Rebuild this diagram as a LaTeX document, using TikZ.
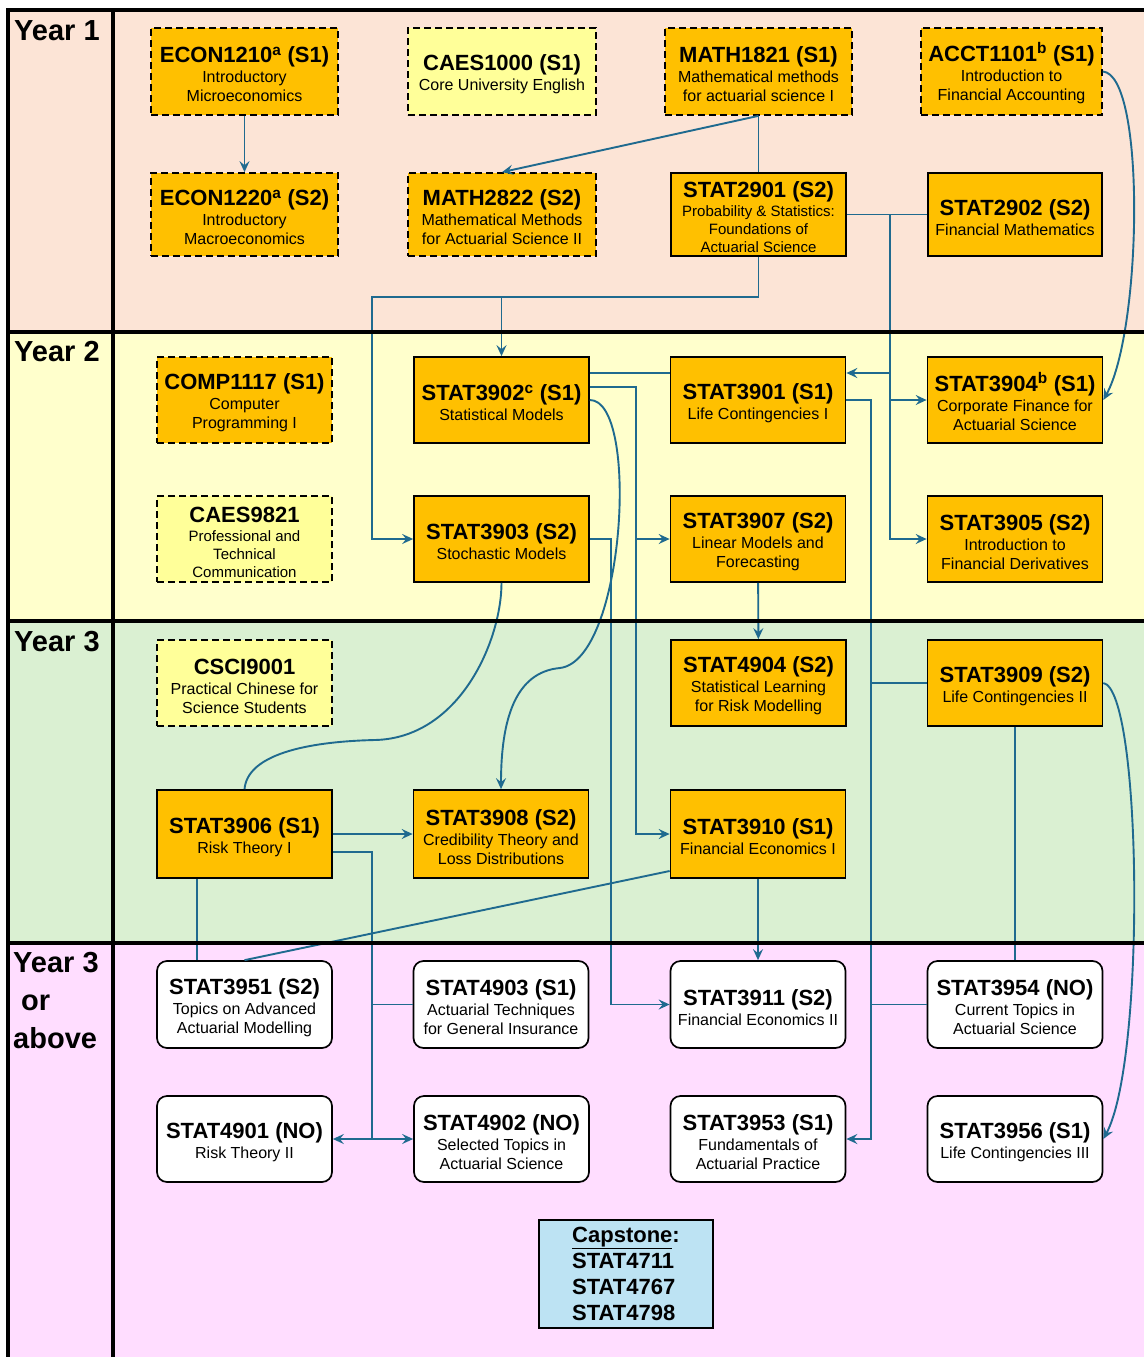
\documentclass[tikz,border=0pt]{standalone}
\usepackage{fontspec}
\setmainfont{Liberation Sans}
\usetikzlibrary{arrows.meta}
\definecolor{yrone}{RGB}{252,228,214}
\definecolor{yrtwo}{RGB}{255,255,204}
\definecolor{yrthree}{RGB}{218,240,210}
\definecolor{yrfour}{RGB}{255,221,255}
\definecolor{orangebox}{RGB}{255,192,0}
\definecolor{genbox}{RGB}{255,255,153}
\definecolor{capbox}{RGB}{189,227,243}
\definecolor{linkc}{RGB}{31,106,143}
\newcommand{\ctitle}[1]{{\fontsize{22}{24}\selectfont\bfseries\rule{0pt}{22pt}#1}}

\begin{document}
\begin{tikzpicture}[x=1pt,y=-1pt,
    box/.style={draw,line width=1.7pt,minimum width=175pt,minimum height=86pt,inner sep=1pt,align=center,font=\fontsize{16}{19}\selectfont},
    core/.style={box,fill=orangebox},
    elective/.style={box,fill=orangebox,dash pattern=on 7pt off 4pt},
    general/.style={box,fill=genbox,dash pattern=on 7pt off 4pt},
    adv/.style={box,fill=white,rounded corners=10pt},
    yr/.style={anchor=north west,inner sep=0pt,align=left,font=\fontsize{29}{38}\selectfont\bfseries},
    link/.style={draw=linkc,line width=1.9pt},
    arr/.style={link,-{Stealth[length=11pt,width=10pt,inset=4pt]}}]
    \useasboundingbox (0,0) rectangle (1144,1357);
    \fill[yrone] (7.5,10) rectangle (1144,331.5);
    \fill[yrtwo] (7.5,331.5) rectangle (1144,620.5);
    \fill[yrthree] (7.5,620.5) rectangle (1144,942.5);
    \fill[yrfour] (7.5,942.5) rectangle (1144,1357);

    \node[yr] (yr1) at (14,20) {Year 1};
    \node[yr] (yr2) at (14,341) {Year 2};
    \node[yr] (yr3) at (14,631) {Year 3};
    \node[yr] (yr4) at (13,952) {Year 3\\\hspace*{8pt}or\\above};

    % year 1
    \node[elective,minimum width=187pt,minimum height=87pt] (econA) at (244.5,71.5) {\ctitle{ECON1210\textsuperscript{a} (S1)}\\[1pt]Introductory\\Microeconomics};
    \node[general,minimum width=188pt,minimum height=87pt] (caesA) at (502,71.5) {\ctitle{CAES1000 (S1)}\\[1pt]Core University English};
    \node[elective,minimum width=187pt,minimum height=87pt] (mathA) at (758.5,71.5) {\ctitle{MATH1821 (S1)}\\[1pt]Mathematical methods\\for actuarial science I};
    \node[elective,minimum width=181pt,minimum height=87pt] (acct) at (1011.5,71.5) {\ctitle{ACCT1101\textsuperscript{b} (S1)}\\[1pt]Introduction to\\Financial Accounting};
    \node[elective,minimum width=187pt,minimum height=83pt] (econB) at (244.5,214.5) {\ctitle{ECON1220\textsuperscript{a} (S2)}\\[1pt]Introductory\\Macroeconomics};
    \node[elective,minimum width=188pt,minimum height=83pt] (mathB) at (502,214.5) {\ctitle{MATH2822 (S2)}\\[1pt]Mathematical Methods\\for Actuarial Science II};
    \node[core,minimum height=83pt,font=\fontsize{15}{18}\selectfont] (s2901) at (758.5,214.5) {\ctitle{STAT2901 (S2)}\\[1pt]Probability \& Statistics:\\Foundations of\\Actuarial Science};
    \node[core,minimum width=174pt,minimum height=83pt] (s2902) at (1015,214.5) {\ctitle{STAT2902 (S2)}\\[1pt]Financial Mathematics};

    % year 2
    \node[elective] (comp) at (244.5,400) {\ctitle{COMP1117 (S1)}\\[1pt]Computer\\Programming I};
    \node[core] (s3902) at (501.5,400) {\ctitle{STAT3902\textsuperscript{c} (S1)}\\[1pt]Statistical Models};
    \node[core] (s3901) at (758,400) {\ctitle{STAT3901 (S1)}\\[1pt]Life Contingencies I};
    \node[core] (s3904) at (1015,400) {\ctitle{STAT3904\textsuperscript{b} (S1)}\\[1pt]Corporate Finance for\\Actuarial Science};
    \node[general,font=\fontsize{15}{18}\selectfont] (caesB) at (244.5,539) {\ctitle{CAES9821}\\[1pt]Professional and\\Technical\\Communication};
    \node[core] (s3903) at (501.5,539) {\ctitle{STAT3903 (S2)}\\[1pt]Stochastic Models};
    \node[core] (s3907) at (758,539) {\ctitle{STAT3907 (S2)}\\[1pt]Linear Models and\\Forecasting};
    \node[core] (s3905) at (1015,539) {\ctitle{STAT3905 (S2)}\\[1pt]Introduction to\\Financial Derivatives};

    % year 3
    \node[general] (csci) at (244.5,683) {\ctitle{CSCI9001}\\[1pt]Practical Chinese for\\Science Students};
    \node[core] (s4904) at (758.5,683) {\ctitle{STAT4904 (S2)}\\[1pt]Statistical Learning\\for Risk Modelling};
    \node[core] (s3909) at (1015,683) {\ctitle{STAT3909 (S2)}\\[1pt]Life Contingencies II};
    \node[core,minimum height=88pt] (s3906) at (244.5,834) {\ctitle{STAT3906 (S1)}\\[1pt]Risk Theory I};
    \node[core,minimum height=88pt] (s3908) at (501,834) {\ctitle{STAT3908 (S2)}\\[1pt]Credibility Theory and\\Loss Distributions};
    \node[core,minimum height=88pt] (s3910) at (758,834) {\ctitle{STAT3910 (S1)}\\[1pt]Financial Economics I};

    % year 3 or above
    \node[adv,minimum height=87pt] (s3951) at (244.5,1004.5) {\ctitle{STAT3951 (S2)}\\[1pt]Topics on Advanced\\Actuarial Modelling};
    \node[adv,minimum height=87pt] (s4903) at (501,1004.5) {\ctitle{STAT4903 (S1)}\\[1pt]Actuarial Techniques\\for General Insurance};
    \node[adv,minimum height=87pt] (s3911) at (758,1004.5) {\ctitle{STAT3911 (S2)}\\[1pt]Financial Economics II};
    \node[adv,minimum height=87pt] (s3954) at (1015,1004.5) {\ctitle{STAT3954 (NO)}\\[1pt]Current Topics in\\Actuarial Science};
    \node[adv] (s4901) at (244.5,1139) {\ctitle{STAT4901 (NO)}\\[1pt]Risk Theory II};
    \node[adv] (s4902) at (501.5,1139) {\ctitle{STAT4902 (NO)}\\[1pt]Selected Topics in\\Actuarial Science};
    \node[adv] (s3953) at (758,1139) {\ctitle{STAT3953 (S1)}\\[1pt]Fundamentals of\\Actuarial Practice};
    \node[adv] (s3956) at (1015,1139) {\ctitle{STAT3956 (S1)}\\[1pt]Life Contingencies III};
    \node[draw,line width=1.7pt,fill=capbox,minimum width=174pt,minimum height=108pt,align=left,font=\fontsize{22}{26}\selectfont\bfseries] (cap) at (626,1274) {\underline{Capstone}:\\STAT4711\\STAT4767\\STAT4798};

    \coordinate (jA) at (372,297);
    \coordinate (jB) at (890,214.5);
    \coordinate (jC) at (636,539);
    \coordinate (jD) at (611,1004.5);
    \coordinate (jE) at (871,1139);
    \coordinate (jF) at (372,1139);

    \draw[arr] (econA) -- (econB);
    \draw[arr] (mathA.south) -- (mathB.north);
    \draw[link] (mathA.south) -- (s2901.north);
    \draw[arr] (s2901.south) |- (jA) |- (s3903.west);
    \draw[arr] (s3902.north |- jA) -- (s3902.north);
    \draw[link] (s2901.east) -- (s2902.west);
    \draw[arr] (jB) |- ([yshift=27pt]s3901.east);
    \draw[arr] (jB |- s3904.west) -- (s3904.west);
    \draw[arr] (jB) |- (s3905.west);
    \draw[arr] (acct.east) .. controls (1146,75) and (1142,330) .. (s3904.east);
    \draw[link] ([yshift=27pt]s3902.east) -- ([yshift=27pt]s3901.west);
    \draw[arr] ([yshift=13pt]s3902.east) -| (jC) |- (s3910.west);
    \draw[arr] (jC) -- (s3907.west);
    \draw[arr] (s3902.east) .. controls (640,400) and (625,660) .. (560,668) .. controls (515,672) and (501,720) .. (s3908.north);
    \draw[link] (s3903.south) .. controls (501.5,640) and (460,738) .. (375,740) .. controls (330,741) and (248,748) .. (s3906.north);
    \draw[arr] (s3903.east) -| (jD) -- (s3911.west);
    \draw[arr] (s3901.east) -| (jE) -- (s3953.east);
    \draw[link] (s3909.west) -- (s3909.west -| jE);
    \draw[link] (s3954.west) -- (s3954.west -| jE);
    \draw[arr] (s3907) -- (s4904);
    \draw[link] (s3909) -- (s3954);
    \draw[arr] (s3909.east) .. controls (1142,690) and (1146,1060) .. (s3956.east);
    \draw[arr] (s3906.east) -- (s3908.west);
    \draw[arr] ([yshift=-18pt]s3906.east) -| (jF) -- (s4902.west);
    \draw[arr] (jF) -- (s4901.east);
    \draw[link] (s4903.west) -- (s4903.west -| jF);
    \draw[link] ([xshift=-47.5pt]s3906.south) -- ([xshift=-47.5pt]s3951.north);
    \draw[link] ([yshift=-37pt]s3910.west) -- (s3951.north);
    \draw[arr] (s3910) -- (s3911);

    \draw[line width=4pt] (7.5,1357) -- (7.5,10) -- (1144,10);
    \draw[line width=4pt] (113,10) -- (113,1357);
    \foreach \yy in {331.5,620.5,942.5}
      \draw[line width=4pt] (7.5,\yy) -- (1144,\yy);
\end{tikzpicture}
\end{document}
